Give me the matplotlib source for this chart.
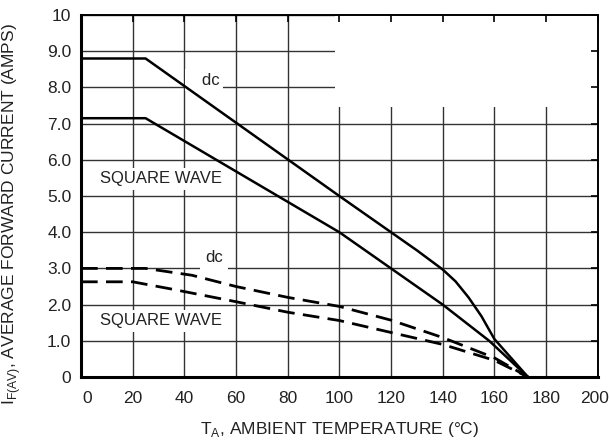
import matplotlib
matplotlib.use("Agg")
import matplotlib.pyplot as plt
import matplotlib.transforms as mtransforms
from matplotlib.patches import Rectangle

plt.rcParams['font.family'] = ['Liberation Sans Narrow', 'Liberation Sans', 'DejaVu Sans']
plt.rcParams['mathtext.fontset'] = 'custom'
plt.rcParams['mathtext.rm'] = 'Liberation Sans'

# derating curves
temp_dc = [0, 25, 100, 120, 130, 140, 145, 150, 155, 160, 173]
amps_dc = [8.8, 8.8, 5.0, 4.0, 3.5, 2.97, 2.64, 2.2, 1.68, 1.05, 0]

temp_sq = [0, 25, 100, 120, 140, 158, 173]
amps_sq = [7.15, 7.15, 4.0, 3.0, 2.0, 1.0, 0]

temp_dc2 = [0, 25, 43, 60, 80, 100, 120, 140, 160, 173]
amps_dc2 = [3.0, 3.0, 2.81, 2.5, 2.2, 1.95, 1.57, 1.09, 0.53, 0]

temp_sq2 = [0, 20, 35, 60, 80, 100, 120, 140, 160, 173]
amps_sq2 = [2.63, 2.63, 2.43, 2.08, 1.79, 1.56, 1.23, 0.9, 0.46, 0]

xticks = list(range(0, 201, 20))
yticks = list(range(0, 11))
ylabels = ['0', '1.0', '2.0', '3.0', '4.0', '5.0', '6.0', '7.0', '8.0', '9.0', '10']

fig = plt.figure(figsize=(6.1, 4.43), dpi=100)
ax = fig.add_axes([0.1328, 0.149, 0.847, 0.817])
ax.set_xlim(0, 200)
ax.set_ylim(0, 10)
ax.set_xticks(xticks)
ax.set_yticks(yticks)
ax.set_yticklabels(ylabels)
ax.tick_params(length=0, labelsize=12.5, colors='#222222')
ax.tick_params(axis='x', pad=10)
ax.tick_params(axis='y', pad=7)
ax.grid(True, color='#333333', lw=1.0)
ax.set_axisbelow(True)

# nudge the end labels like the original
xlbls = ax.get_xticklabels()
xlbls[0].set_transform(xlbls[0].get_transform() + mtransforms.ScaledTranslation(6 / 100, 0, fig.dpi_scale_trans))
xlbls[-1].set_transform(xlbls[-1].get_transform() + mtransforms.ScaledTranslation(-3 / 100, 0, fig.dpi_scale_trans))

for side in ['left', 'bottom']:
    ax.spines[side].set_linewidth(2.2)
for side in ['top', 'right']:
    ax.spines[side].set_linewidth(1.4)

# blank area in upper right
ax.add_patch(Rectangle((98.5, 7.45), 102, 2.6, facecolor='white', edgecolor='none', zorder=1))

# small inward ticks on top / right
axt = ax.twiny()
axt.set_xlim(0, 200)
axt.set_xticks(xticks)
axt.tick_params(axis='x', direction='in', length=5, width=1.2, labeltop=False)
axr = ax.twinx()
axr.set_ylim(0, 10)
axr.set_yticks(yticks)
axr.tick_params(axis='y', direction='in', length=5, width=1.2, labelright=False)
for a in (axt, axr):
    for s in a.spines.values():
        s.set_visible(False)

ax.plot(temp_dc, amps_dc, color='black', lw=1.8, zorder=4)
ax.plot(temp_sq, amps_sq, color='black', lw=1.8, zorder=4)
ax.plot(temp_dc2, amps_dc2, color='black', lw=2.0, dashes=(6, 3), zorder=4)
ax.plot(temp_sq2, amps_sq2, color='black', lw=2.0, dashes=(6, 3), zorder=4)

box = dict(facecolor='white', edgecolor='none', pad=2.5)
ax.text(31, 5.48, 'SQUARE WAVE', ha='center', va='center', fontsize=12, color='#222222', bbox=box, zorder=3)
ax.text(31, 1.55, 'SQUARE WAVE', ha='center', va='center', fontsize=12, color='#222222', bbox=box, zorder=3)
ax.text(53.8, 8.2, '   dc', ha='right', va='center', fontsize=12, color='#222222', bbox=box, zorder=3)
ax.text(51.5, 3.29, 'dc', ha='center', va='center', fontsize=12, color='#222222',
        bbox=dict(facecolor='white', edgecolor='none', pad=4), zorder=3)

ax.set_xlabel(r'T$_{\mathregular{A}}$, AMBIENT TEMPERATURE ($\mathregular{°}$C)', fontsize=12.5,
              color='#222222', labelpad=10)
ax.set_ylabel(r'I$_{\mathregular{F(AV)}}$, AVERAGE FORWARD CURRENT (AMPS)', fontsize=12.5,
              color='#222222')
ax.yaxis.set_label_coords(-0.112, 0.45)

fig.savefig('out.png', dpi=100)
